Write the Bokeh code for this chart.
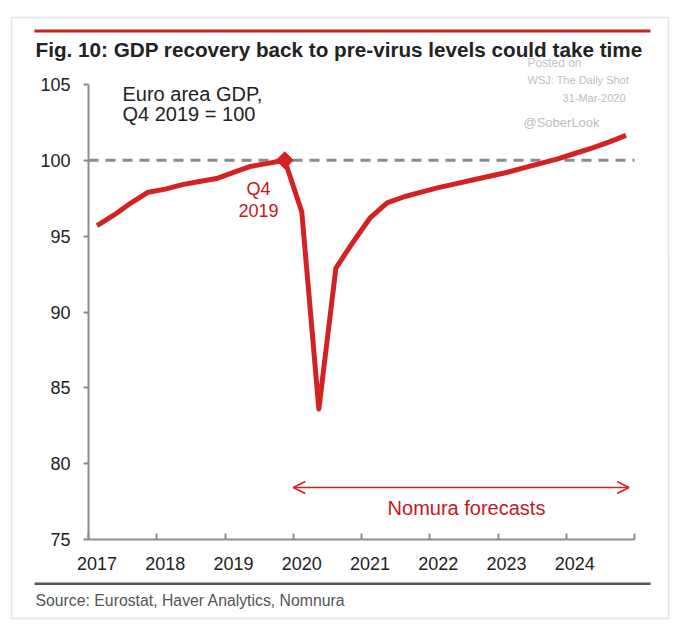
import math
from bokeh.plotting import figure
from bokeh.models import (Range1d, FixedTicker, Label, Arrow, OpenHead,
                          BoxAnnotation, CustomJSTickFormatter)
from bokeh.embed import file_html
from bokeh.resources import INLINE

# ---------------- data ----------------
years = [2017, 2018, 2019, 2020, 2021, 2022, 2023, 2024]
quarters = [f"{y}Q{q}" for y in years for q in (1, 2, 3, 4)]
gdp = [95.7, 96.4, 97.2, 97.9,
       98.1, 98.4, 98.6, 98.8,
       99.2, 99.6, 99.8, 100.0,
       96.6, 83.6, 92.9, 94.6,
       96.2, 97.2, 97.6, 97.9,
       98.2, 98.45, 98.7, 98.95,
       99.2, 99.5, 99.8, 100.1,
       100.45, 100.8, 101.2, 101.65]
y_ticks = [75, 80, 85, 90, 95, 100, 105]
base_quarter = "2019Q4"
base_level = 100
forecast_start = 2020.0
forecast_end = 2024.92
forecast_arrow_level = 78.43

def qpos(q):
    return int(q[:4]) + (int(q[-1]) - 0.5) / 4.0

xs = [qpos(q) for q in quarters]
x_min, x_max = years[0], years[-1] + 1
y_min, y_max = y_ticks[0], y_ticks[-1]

# ---------------- layout ----------------
W, H = 680, 632
AX_L, AX_R, AX_T, AX_B = 88, 634, 84, 539          # plot box in page pixels
ppx = (AX_R - AX_L) / (x_max - x_min)               # px per year
ppy = (AX_B - AX_T) / (y_max - y_min)               # px per unit
x_range = Range1d(x_min - AX_L / ppx, x_min + (W - AX_L) / ppx)
y_range = Range1d(y_max - (H - AX_T) / ppy, y_max + AX_T / ppy)

RED = "#d42222"
TEXT_RED = "#c8161d"
FONT = "Liberation Sans"
GRAY_AX = "#8c8c8c"

p = figure(width=W, height=H, x_range=x_range, y_range=y_range,
           output_backend="svg", toolbar_location=None,
           min_border=0)
p.grid.visible = False
p.outline_line_color = None
p.background_fill_color = "white"
p.border_fill_color = "white"

# x axis
xa = p.xaxis[0]
xa.fixed_location = y_min
xa.bounds = (x_min, x_max)
xa.ticker = FixedTicker(ticks=[y + 0.125 for y in years],
                        minor_ticks=list(range(x_min, x_max + 1)))
xa.formatter = CustomJSTickFormatter(code="return Math.floor(tick).toString()")
xa.major_tick_line_color = None
xa.minor_tick_in = 6
xa.minor_tick_out = 0
xa.minor_tick_line_color = GRAY_AX
xa.minor_tick_line_width = 2
xa.axis_line_color = GRAY_AX
xa.axis_line_width = 2
xa.major_label_text_font = FONT
xa.major_label_text_font_size = "18px"
xa.major_label_text_color = "#222222"
xa.major_label_standoff = 11

# y axis
ya = p.yaxis[0]
ya.fixed_location = x_min
ya.bounds = (y_min, y_max)
ya.ticker = FixedTicker(ticks=y_ticks)
ya.major_tick_in = 0
ya.major_tick_out = 5
ya.major_tick_line_color = GRAY_AX
ya.major_tick_line_width = 2
ya.minor_tick_line_color = None
ya.axis_line_color = GRAY_AX
ya.axis_line_width = 2
ya.major_label_text_font = FONT
ya.major_label_text_font_size = "18px"
ya.major_label_text_color = "#222222"
ya.major_label_standoff = 13

# reference line at 100 (under the GDP line)
p.line([x_min, x_max], [base_level, base_level], line_color="#8a8a8a",
       line_width=3, line_dash="10 7")

# GDP line
p.line(xs, gdp, line_color=RED, line_width=5, line_join="round")
bi = quarters.index(base_quarter)
p.scatter([xs[bi]], [gdp[bi]], marker="square", size=12, angle=math.pi / 4,
          fill_color=RED, line_color=RED)

# forecast arrow
p.add_layout(Arrow(start=OpenHead(size=12, line_color=RED, line_width=1.5),
                   end=OpenHead(size=12, line_color=RED, line_width=1.5),
                   x_start=forecast_start, y_start=forecast_arrow_level,
                   x_end=forecast_end, y_end=forecast_arrow_level,
                   line_color=RED, line_width=1.5))

def sy(cy):
    return H - cy

def lab(text, cx, cy, size, color="#222222", align="left", style="normal"):
    p.add_layout(Label(x=cx, y=sy(cy), x_units="screen", y_units="screen",
                       text=text, text_font=FONT, text_font_size=size,
                       text_color=color, text_align=align, text_baseline="middle",
                       text_font_style=style))

def box(l, r, t, b, fill=None, line=None, lw=1.0):
    p.add_layout(BoxAnnotation(left=l, right=r, top=sy(t), bottom=sy(b),
                               left_units="screen", right_units="screen",
                               top_units="screen", bottom_units="screen",
                               fill_color=fill if fill else "white",
                               fill_alpha=1.0 if fill else 0.0,
                               line_color=line, line_width=lw,
                               line_alpha=1.0 if line else 0.0,
                               level="underlay"))

# card frame, top red rule, source rule
box(11, 668, 17, 618, fill=None, line="#e4e4e4", lw=1.5)
box(34, 650, 29, 32, fill="#cc1f1f")
box(34, 650, 582, 584.5, fill="#555555")

# texts (watermark first so the title sits on top of it)
lab("Posted on", 527, 62, "12px", "#c4c4c4")
lab("WSJ: The Daily Shot", 527, 79, "11px", "#bdbdbd")
lab("31-Mar-2020", 625, 97, "11px", "#bdbdbd", align="right")
lab("@SoberLook", 523, 122, "13px", "#bdbdbd")
lab("Fig. 10: GDP recovery back to pre-virus levels could take time", 35, 49, "20.7px",
    "#222222", style="bold")
lab("Euro area GDP,", 122, 93, "20px")
lab("Q4 2019 = 100", 122, 113, "20px")
lab("Q4", 258, 188, "18px", TEXT_RED, align="center")
lab("2019", 258, 210, "18px", TEXT_RED, align="center")
lab("Nomura forecasts", 466, 507, "20px", TEXT_RED, align="center")
lab("Source: Eurostat, Haver Analytics, Nomnura", 35, 600, "15.8px", "#555555")

open("out.html", "w").write(file_html(p, INLINE))
